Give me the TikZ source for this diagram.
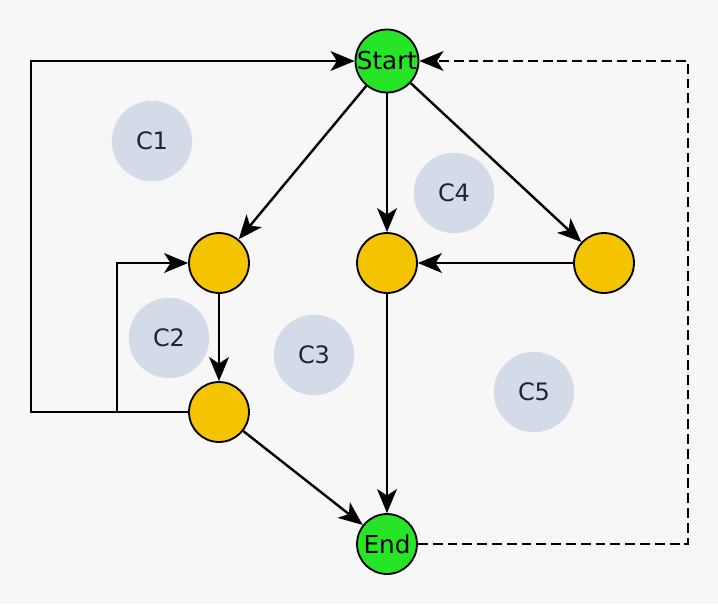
\documentclass[tikz,border=0pt]{standalone}
\usepackage{fontspec}
\setmainfont{DejaVu Sans}
\usetikzlibrary{arrows.meta}
\definecolor{bggray}{RGB}{247,247,247}
\definecolor{termgreen}{RGB}{38,228,38}
\definecolor{stategold}{RGB}{245,196,0}
\definecolor{regionblue}{RGB}{211,219,232}
\definecolor{regiontext}{RGB}{28,36,58}

\begin{document}
\begin{tikzpicture}[x=0.709pt,y=-0.709pt]
    \tikzstyle{terminal} = [circle,draw,line width=1.3pt,fill=termgreen,minimum size=42.5pt,inner sep=0pt,font=\fontsize{17.5}{20}\selectfont]
    \tikzstyle{state} = [circle,draw,line width=1.3pt,fill=stategold,minimum size=42.5pt,inner sep=0pt]
    \tikzstyle{region} = [circle,fill=regionblue,minimum size=57pt,inner sep=0pt,text=regiontext,font=\fontsize{17}{20}\selectfont]
    \tikzstyle{flow} = [line width=1.7pt,-{Stealth[length=17pt,width=14pt,inset=4.5pt]}]
    \tikzstyle{backflow} = [flow,dash pattern=on 7pt off 3.5pt]

    % background
    \fill[bggray] (0,0) rectangle (718,604);
    \useasboundingbox (0,0) rectangle (718,604);

    % regions
    \node[region] (c1) at (152,141) {C1};
    \node[region] (c2) at (169,338) {C2};
    \node[region] (c3) at (314,355) {C3};
    \node[region] (c4) at (454,193) {C4};
    \node[region] (c5) at (534,392) {C5};

    % nodes
    \node[terminal] (start) at (387,61) {Start};
    \node[terminal] (end) at (387,544) {End};
    \node[state] (left) at (219,263) {};
    \node[state] (mid) at (387,263) {};
    \node[state] (right) at (604,263) {};
    \node[state] (low) at (219,412) {};

    % edges
    \draw[flow] (start) -- (left);
    \draw[flow] (start) -- (mid);
    \draw[flow] (start) -- (right);
    \draw[flow] (right) -- (mid);
    \draw[flow] (mid) -- (end);
    \draw[flow] (left) -- (low);
    \draw[flow] (low) -- (end);

    % loops back
    \coordinate (split) at (117,412);
    \draw[flow] (low.west) -- (31,412) -- (31,61) -- (start.west);
    \draw[flow] (split) -- (117,263) -- (left.west);
    \draw[backflow] (end.east) -- (688,544) -- (688,61) -- (start.east);
\end{tikzpicture}
\end{document}
